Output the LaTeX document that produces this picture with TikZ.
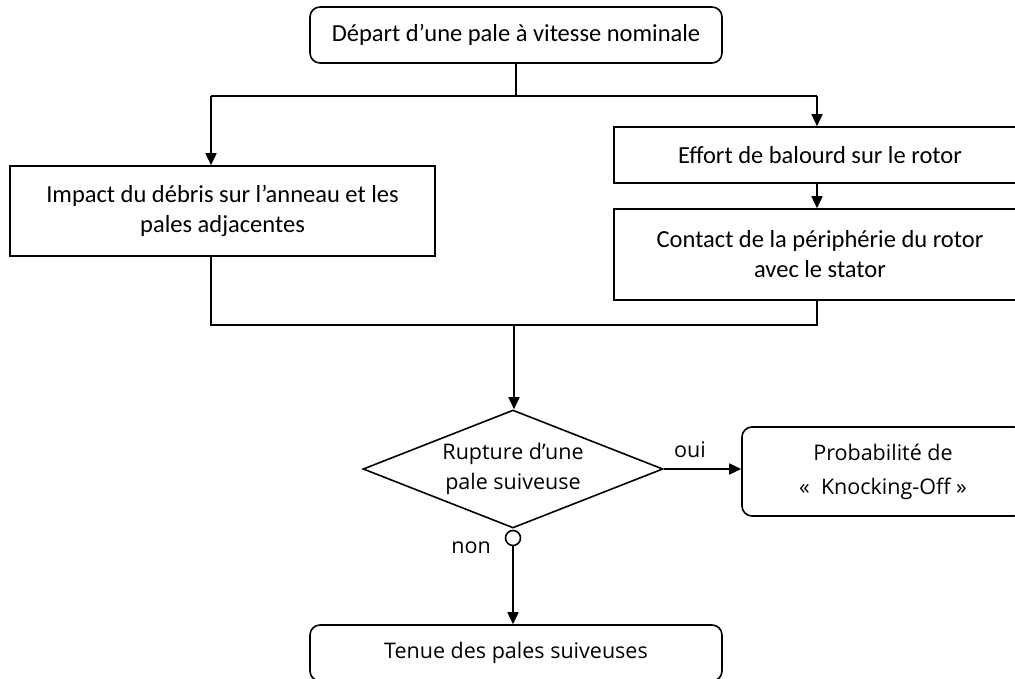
\documentclass[tikz,border=0pt]{standalone}
\usepackage{fontspec}
\setmainfont{Carlito}
\newfontfamily\osfont{Open Sans}
\usetikzlibrary{arrows.meta,shapes.geometric}
\begin{document}
\begin{tikzpicture}[x=1pt,y=-1pt,
  line width=1.6pt,
  txt/.style={font=\fontsize{24.5}{30}\selectfont, align=center, inner sep=0pt},
  ostxt/.style={font=\osfont\fontsize{21.5}{30}\selectfont, align=center, inner sep=0pt},
  sqbox/.style={draw, txt},
  rdbox/.style={draw, rounded corners=10pt, txt},
  arr/.style={-{Triangle[length=12pt,width=11pt]}}]
\useasboundingbox (0,0) rectangle (1015,679);
\clip (0,0) rectangle (1015,679);
% boxes
\node[rdbox, minimum width=412pt, minimum height=56pt] (top) at (516,35) {Départ d’une pale à vitesse nominale};
\node[sqbox, minimum width=425pt, minimum height=90pt] (left) at (222.5,211) {Impact du débris sur l’anneau et les\\pales adjacentes};
\node[sqbox, minimum width=412pt, minimum height=56pt] (effort) at (820,155) {Effort de balourd sur le rotor};
\node[sqbox, minimum width=412pt, minimum height=91pt] (contact) at (820,254.5) {Contact de la périphérie du rotor\\avec le stator};
\node[draw, diamond, aspect=2.5, minimum width=300pt, minimum height=118pt, ostxt] (dec) at (513,469) {Rupture d’une\\pale suiveuse};
\node[draw, rounded corners=10pt, ostxt, font=\osfont\fontsize{21.5}{34}\selectfont, minimum width=282pt, minimum height=89pt] (prob) at (883,471.5) {Probabilité de\\«~ Knocking-Off~»};
\node[draw, rounded corners=10pt, ostxt, minimum width=412pt, minimum height=56pt] (tenue) at (516,653) {Tenue des pales suiveuses};
\node[draw, circle, minimum size=15pt, inner sep=0pt, fill=white] (circ) at (513,538) {};
% junction coordinates
\coordinate (j1) at (516,96);
\coordinate (jl) at (211,96);
\coordinate (jr) at (817,96);
\coordinate (j2) at (514,325);
\coordinate (bl) at (211,325);
\coordinate (br) at (817,325);
% connectors
\draw (top.south) -- (j1);
\draw (jl) -- (jr);
\draw[arr] (jl) -- (jl |- left.north);
\draw[arr] (jr) -- (jr |- effort.north);
\draw[arr] (effort.south -| jr) -- (contact.north -| jr);
\draw (bl |- left.south) -- (bl) -- (br) -- (br |- contact.south);
\draw[arr] (j2) -- (j2 |- dec.north);
\draw[arr] (dec.east) -- (prob.west |- dec.east);
\node[ostxt] (oui) at (690,450) {oui};
\draw[arr] (circ.south) -- (circ.south |- tenue.north);
\node[ostxt] (non) at (471,548) {non};
\end{tikzpicture}
\end{document}
